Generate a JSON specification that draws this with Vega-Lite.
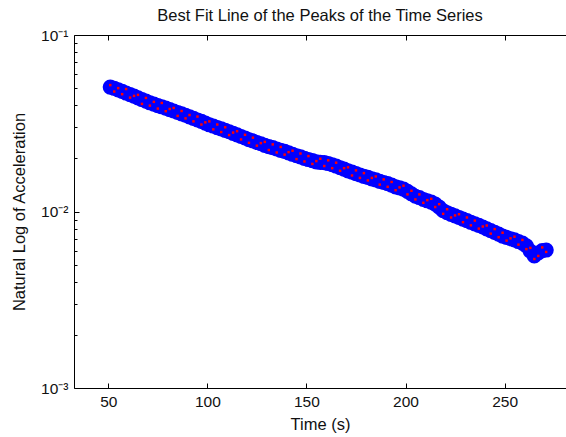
{
  "$schema": "https://vega.github.io/schema/vega-lite/v6.json",
  "width": 492,
  "height": 353,
  "autosize": {"type": "none"},
  "padding": {"left": 74, "top": 35, "right": 0, "bottom": 49},
  "background": "white",
  "config": {
    "view": {"stroke": null},
    "axis": {
      "domainColor": "#000", "tickColor": "#000", "labelColor": "#111", "titleColor": "#111",
      "labelFont": "Liberation Sans", "titleFont": "Liberation Sans",
      "labelFontSize": 15.5, "titleFontSize": 16.5, "titleFontWeight": "normal",
      "grid": false, "domainWidth": 1, "tickWidth": 1, "labelFlush": false, "labelOverlap": false
    }
  },
  "title": {
    "text": "Best Fit Line of the Peaks of the Time Series",
    "font": "Liberation Sans", "fontSize": 16.5, "fontWeight": "normal", "color": "#111",
    "anchor": "middle", "baseline": "alphabetic", "frame": "group", "offset": -9
  },
  "data": {"values": [
    {"t":51,"a":0.0507,"r":0.0520},{"t":53,"a":0.0499,"r":0.0478},{"t":55,"a":0.0489,"r":0.0500},{"t":57,"a":0.0479,"r":0.0462},
    {"t":59,"a":0.0469,"r":0.0494},{"t":61,"a":0.0459,"r":0.0442},{"t":63,"a":0.0450,"r":0.0452},{"t":65,"a":0.0440,"r":0.0458},
    {"t":67,"a":0.0431,"r":0.0407},{"t":69,"a":0.0422,"r":0.0440},{"t":71,"a":0.0413,"r":0.0398},{"t":73,"a":0.0406,"r":0.0418},
    {"t":75,"a":0.0398,"r":0.0383},{"t":77,"a":0.0392,"r":0.0412},{"t":79,"a":0.0385,"r":0.0370},{"t":81,"a":0.0378,"r":0.0381},
    {"t":83,"a":0.0371,"r":0.0386},{"t":85,"a":0.0364,"r":0.0348},{"t":87,"a":0.0357,"r":0.0371},{"t":89,"a":0.0351,"r":0.0337},
    {"t":91,"a":0.0344,"r":0.0352},{"t":93,"a":0.0337,"r":0.0324},{"t":95,"a":0.0330,"r":0.0345},{"t":97,"a":0.0324,"r":0.0311},
    {"t":99,"a":0.0317,"r":0.0320},{"t":101,"a":0.0310,"r":0.0324},{"t":103,"a":0.0305,"r":0.0292},{"t":105,"a":0.0299,"r":0.0311},
    {"t":107,"a":0.0294,"r":0.0282},{"t":109,"a":0.0288,"r":0.0300},{"t":111,"a":0.0283,"r":0.0271},{"t":113,"a":0.0277,"r":0.0280},
    {"t":115,"a":0.0272,"r":0.0285},{"t":117,"a":0.0266,"r":0.0256},{"t":119,"a":0.0261,"r":0.0272},{"t":121,"a":0.0255,"r":0.0245},
    {"t":123,"a":0.0251,"r":0.0262},{"t":125,"a":0.0246,"r":0.0236},{"t":127,"a":0.0242,"r":0.0244},{"t":129,"a":0.0237,"r":0.0248},
    {"t":131,"a":0.0233,"r":0.0223},{"t":133,"a":0.0230,"r":0.0240},{"t":135,"a":0.0226,"r":0.0216},{"t":137,"a":0.0222,"r":0.0232},
    {"t":139,"a":0.0219,"r":0.0210},{"t":141,"a":0.0215,"r":0.0217},{"t":143,"a":0.0211,"r":0.0221},{"t":145,"a":0.0207,"r":0.0198},
    {"t":147,"a":0.0204,"r":0.0213},{"t":149,"a":0.0200,"r":0.0192},{"t":151,"a":0.0197,"r":0.0206},{"t":153,"a":0.0194,"r":0.0186},
    {"t":155,"a":0.0191,"r":0.0193},{"t":157,"a":0.0190,"r":0.0199},{"t":159,"a":0.0189,"r":0.0181},{"t":161,"a":0.0187,"r":0.0195},
    {"t":163,"a":0.0184,"r":0.0176},{"t":165,"a":0.0181,"r":0.0189},{"t":167,"a":0.0177,"r":0.0170},{"t":169,"a":0.0174,"r":0.0176},
    {"t":171,"a":0.0170,"r":0.0178},{"t":173,"a":0.0167,"r":0.0160},{"t":175,"a":0.0164,"r":0.0171},{"t":177,"a":0.0161,"r":0.0155},
    {"t":179,"a":0.0158,"r":0.0165},{"t":181,"a":0.0156,"r":0.0150},{"t":183,"a":0.0153,"r":0.0155},{"t":185,"a":0.0151,"r":0.0158},
    {"t":187,"a":0.0148,"r":0.0142},{"t":189,"a":0.0146,"r":0.0152},{"t":191,"a":0.0144,"r":0.0138},{"t":193,"a":0.0141,"r":0.0147},
    {"t":195,"a":0.0138,"r":0.0132},{"t":197,"a":0.0136,"r":0.0137},{"t":199,"a":0.0134,"r":0.0140},{"t":201,"a":0.0130,"r":0.0125},
    {"t":203,"a":0.0126,"r":0.0131},{"t":205,"a":0.0122,"r":0.0117},{"t":207,"a":0.0120,"r":0.0125},{"t":209,"a":0.0117,"r":0.0112},
    {"t":211,"a":0.0115,"r":0.0116},{"t":213,"a":0.0113,"r":0.0118},{"t":215,"a":0.0110,"r":0.0106},{"t":217,"a":0.0106,"r":0.0110},
    {"t":219,"a":0.0101,"r":0.0097},{"t":221,"a":0.00984,"r":0.0103},{"t":223,"a":0.00964,"r":0.00925},{"t":225,"a":0.00944,"r":0.0095},
    {"t":227,"a":0.00925,"r":0.00965},{"t":229,"a":0.00906,"r":0.0087},{"t":231,"a":0.00887,"r":0.00925},{"t":233,"a":0.00869,"r":0.00835},
    {"t":235,"a":0.00851,"r":0.00888},{"t":237,"a":0.00834,"r":0.008},{"t":239,"a":0.00817,"r":0.00822},{"t":241,"a":0.00798,"r":0.00833},
    {"t":243,"a":0.0078,"r":0.00749},{"t":245,"a":0.00762,"r":0.00795},{"t":247,"a":0.00745,"r":0.00715},{"t":249,"a":0.00726,"r":0.00758},
    {"t":251,"a":0.00713,"r":0.00684},{"t":253,"a":0.00701,"r":0.00705},{"t":255,"a":0.0069,"r":0.0072},{"t":257,"a":0.00676,"r":0.00649},
    {"t":259,"a":0.00662,"r":0.0069},{"t":261,"a":0.00638,"r":0.00612},{"t":263,"a":0.00596,"r":0.00622},{"t":265,"a":0.0056,"r":0.00538},
    {"t":267,"a":0.00582,"r":0.0056},{"t":269,"a":0.006,"r":0.00626},{"t":271,"a":0.00605,"r":0.0059}
  ]},
  "layer": [
    {
      "mark": {"type": "point", "filled": true, "shape": "circle", "size": 230, "color": "#0000ff", "opacity": 1},
      "encoding": {
        "x": {"field": "t", "type": "quantitative",
              "scale": {"domain": [32.7, 281], "nice": false, "zero": false},
              "axis": {"orient": "bottom", "values": [50, 100, 150, 200, 250], "tickSize": -5, "labelPadding": 11,
                       "labelBaseline": "top", "title": "Time (s)", "titleX": 246, "titleY": 41, "titleBaseline": "alphabetic"}},
        "y": {"field": "a", "type": "quantitative",
              "scale": {"type": "log", "domain": [0.001, 0.1], "nice": false},
              "axis": {"orient": "left",
                       "values": [0.001, 0.002, 0.003, 0.004, 0.005, 0.006, 0.007, 0.008, 0.009, 0.01, 0.02, 0.03, 0.04, 0.05, 0.06, 0.07, 0.08, 0.09, 0.1],
                       "tickSize": {"condition": {"test": "datum.value == 0.1 || datum.value == 0.01 || datum.value == 0.001", "value": -5}, "value": -3},
                       "labelExpr": "datum.value == 0.1 ? '10⁻¹' : datum.value == 0.01 ? '10⁻²' : datum.value == 0.001 ? '10⁻³' : ''",
                       "labelPadding": 11, "labelBaseline": "middle",
                       "title": "Natural Log of Acceleration", "titleX": -50, "titleY": 176.5, "titleBaseline": "alphabetic"}}
      }
    },
    {
      "mark": {"type": "point", "filled": true, "shape": "square", "size": 6, "color": "#ff0000", "opacity": 1},
      "encoding": {
        "x": {"field": "t", "type": "quantitative",
              "axis": {"orient": "top", "values": [50, 100, 150, 200, 250], "tickSize": -5, "labels": false, "title": null}},
        "y": {"field": "r", "type": "quantitative", "axis": null}
      }
    }
  ],
  "resolve": {"axis": {"x": "independent", "y": "independent"}}
}
